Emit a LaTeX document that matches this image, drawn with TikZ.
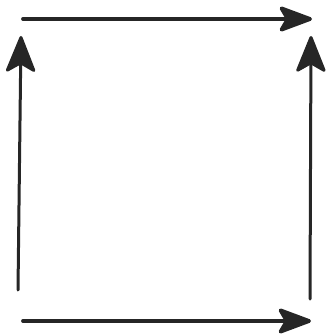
\documentclass[tikz,border=0pt]{standalone}
\usepackage{tikz}
\usetikzlibrary{arrows.meta}

\begin{document}
\begin{tikzpicture}[x=1pt,y=-1pt,
  pfeil/.style={-{Stealth[length=38pt,width=28pt,inset=8pt,round]},line width=3.8pt,draw=black!85,line cap=round},
  hochpfeil/.style={-{Stealth[length=40pt,width=32pt,inset=9pt,round]},line width=3pt,draw=black!85,line cap=round}]
  \useasboundingbox (0,0) rectangle (328,334);

  % Eckpunkte
  \coordinate (oL) at (23,19);
  \coordinate (oR) at (312,19);
  \coordinate (uL) at (23,321);
  \coordinate (uR) at (311,321);
  \coordinate (lU) at (18,290);
  \coordinate (lO) at (21,36);
  \coordinate (rU) at (310,299);
  \coordinate (rO) at (311,36);

  % Waagerechte Pfeile
  \draw[pfeil] (oL) -- (oR);
  \draw[pfeil] (uL) -- (uR);

  % Senkrechte Pfeile
  \draw[hochpfeil] (lU) -- (lO);
  \draw[hochpfeil] (rU) -- (rO);
\end{tikzpicture}
\end{document}
